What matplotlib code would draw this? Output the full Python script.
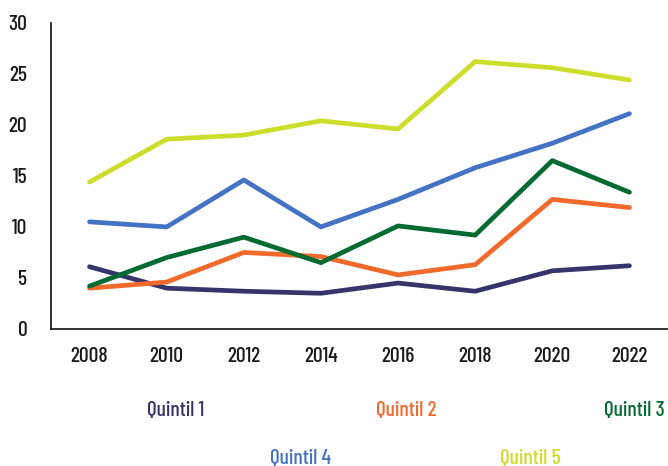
import matplotlib
matplotlib.use('agg')
import matplotlib.pyplot as plt

years = ['2008', '2010', '2012', '2014', '2016', '2018', '2020', '2022']
quintil_1 = [6.1, 4.0, 3.7, 3.5, 4.5, 3.7, 5.7, 6.2]
quintil_2 = [4.0, 4.6, 7.5, 7.1, 5.3, 6.3, 12.7, 11.9]
quintil_3 = [4.2, 7.0, 9.0, 6.5, 10.1, 9.2, 16.5, 13.4]
quintil_4 = [10.5, 10.0, 14.6, 10.0, 12.7, 15.8, 18.2, 21.1]
quintil_5 = [14.4, 18.6, 19.0, 20.4, 19.6, 26.2, 25.6, 24.4]
names = ['Quintil 1', 'Quintil 2', 'Quintil 3', 'Quintil 4', 'Quintil 5']
colors = ['#36346a', '#f26a2b', '#036a32', '#4472c4', '#cddd2c']

plt.rcParams['font.family'] = ['Barlow Condensed', 'DejaVu Sans']
plt.rcParams['font.weight'] = 500

fig = plt.figure(figsize=(6.68, 4.66), dpi=100)
ax = fig.add_axes([0.0763, 0.294, 0.9237, 0.657])

series = [quintil_1, quintil_2, quintil_3, quintil_4, quintil_5]
x = range(len(years))
for vals, col in zip(series, colors):
    ax.plot(x, vals, color=col, linewidth=3.4, solid_capstyle='round')

ax.set_xlim(-0.5, len(years) - 0.5)
ax.set_ylim(0, 30)
ax.set_yticks([0, 5, 10, 15, 20, 25, 30])
ax.set_xticks(list(x))
ax.set_xticklabels(years)
ax.tick_params(length=0, labelsize=15.5, colors='#1a1a1a')
ax.tick_params(axis='x', pad=13)
ax.tick_params(axis='y', pad=17)
for s in ['top', 'right']:
    ax.spines[s].set_visible(False)
ax.spines['left'].set_linewidth(1.3)
ax.spines['bottom'].set_linewidth(1.3)
ax.spines['left'].set_color('#222222')
ax.spines['bottom'].set_color('#222222')

# legend drawn as coloured text
pos = [(176, 411), (406, 411), (634, 411), (300, 458), (530, 458)]
for name, col, (px, py) in zip(names, colors, pos):
    fig.text(px / 668, 1 - py / 466, name, color=col, fontsize=15.5,
             ha='center', va='center')

plt.savefig('out.png')
